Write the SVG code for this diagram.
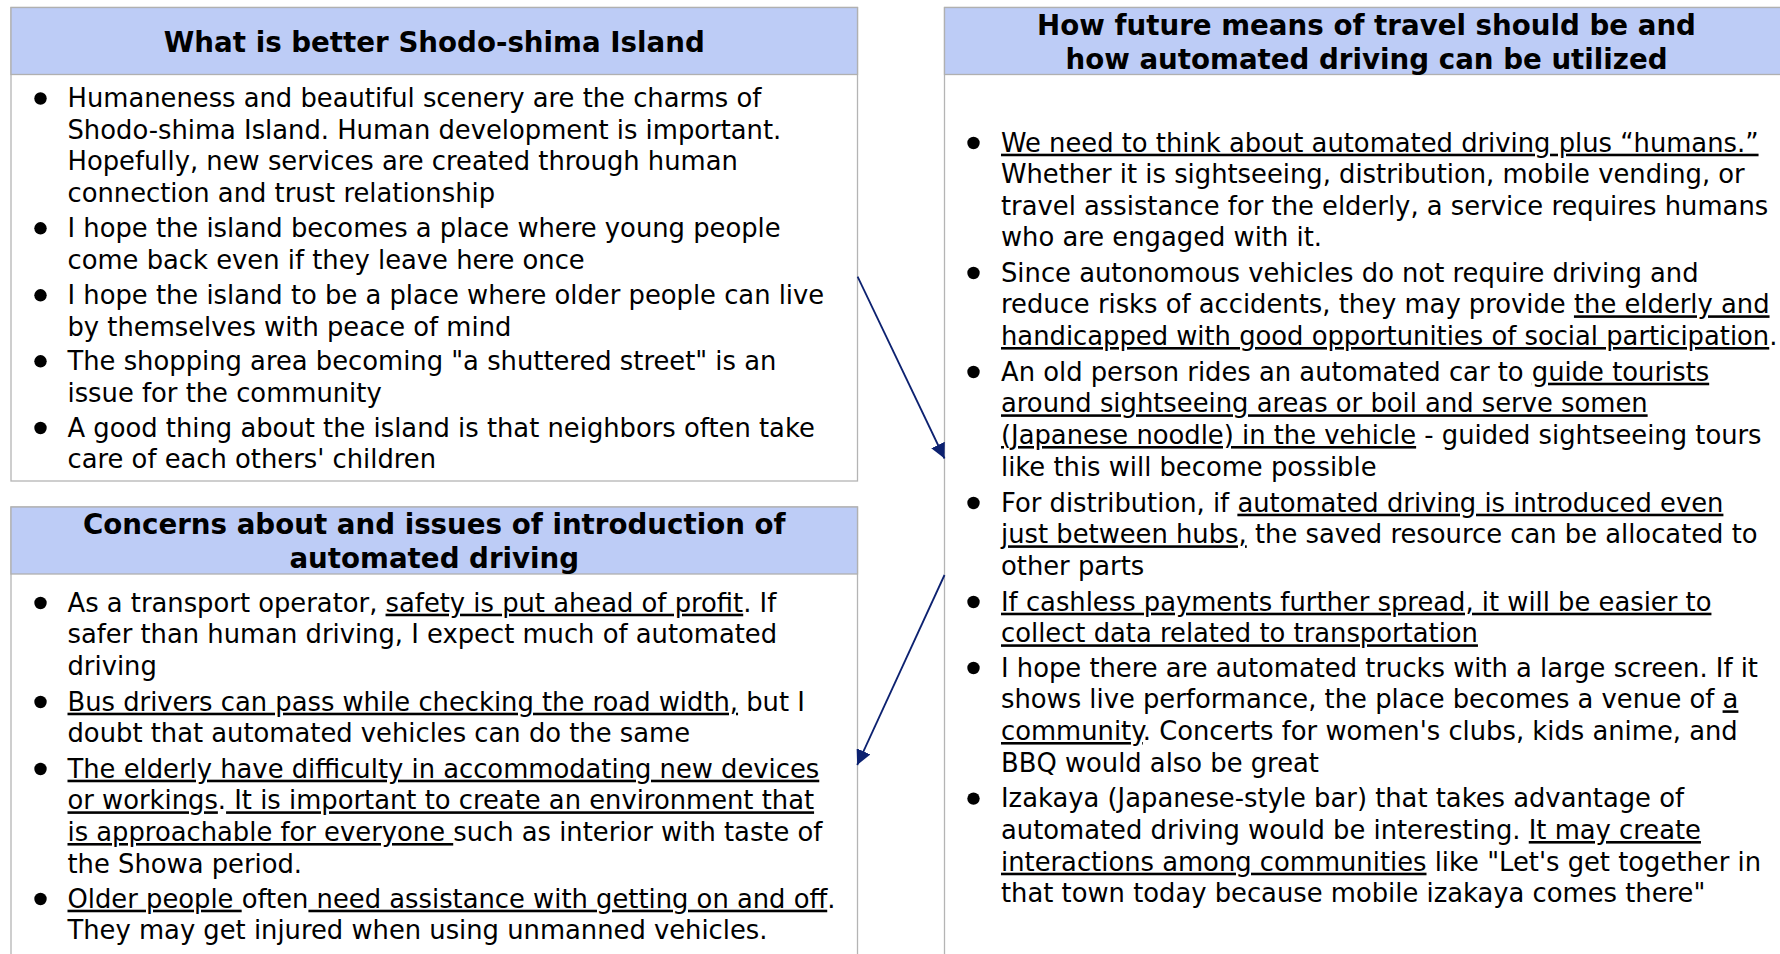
<svg xmlns="http://www.w3.org/2000/svg" width="1780" height="954" viewBox="0 0 1780 954">
<style>
.box{fill:#ffffff;stroke:#b4b4b4;stroke-width:1.3}
.hdr{fill:#bdccf6;stroke:#b0b0b0;stroke-width:1.3}
.title{font-family:"DejaVu Sans","Verdana",sans-serif;font-weight:bold;font-size:27.7px;fill:#000;text-anchor:middle}
.body{font-family:"DejaVu Sans","Verdana",sans-serif;font-size:25.8px;fill:#000;white-space:pre}
.u{text-decoration:underline}
.dot{fill:#000}
.conn{stroke:#0c2170;stroke-width:1.8;fill:none}
</style>
<defs>
<marker id="ah" markerUnits="userSpaceOnUse" markerWidth="16" markerHeight="15" refX="15" refY="7.5" orient="auto" viewBox="0 0 16 15">
<path d="M0,0 L15,7.5 L0,15 z" fill="#0c2170"/>
</marker>
</defs>
<rect x="0" y="0" width="1780" height="954" fill="#ffffff"/>

<g id="node-better-shodoshima">
<rect class="box" x="11" y="7.5" width="846.5" height="473.5"/>
<rect class="hdr" x="11" y="7.5" width="846.5" height="67"/>
<text class="title" x="434.3" y="51.5">What is better Shodo-shima Island</text>
<circle class="dot" cx="40.5" cy="98.5" r="6.2"/>
<circle class="dot" cx="40.5" cy="228.3" r="6.2"/>
<circle class="dot" cx="40.5" cy="295.3" r="6.2"/>
<circle class="dot" cx="40.5" cy="361.3" r="6.2"/>
<circle class="dot" cx="40.5" cy="428" r="6.2"/>
<text class="body" xml:space="preserve">
<tspan x="67.5" y="107.3">Humaneness and beautiful scenery are the charms of</tspan>
<tspan x="67.5" y="138.8">Shodo-shima Island. Human development is important.</tspan>
<tspan x="67.5" y="170.3">Hopefully, new services are created through human</tspan>
<tspan x="67.5" y="201.8">connection and trust relationship</tspan>
<tspan x="67.5" y="237">I hope the island becomes a place where young people</tspan>
<tspan x="67.5" y="268.6">come back even if they leave here once</tspan>
<tspan x="67.5" y="304">I hope the island to be a place where older people can live</tspan>
<tspan x="67.5" y="335.6">by themselves with peace of mind</tspan>
<tspan x="67.5" y="370">The shopping area becoming "a shuttered street" is an</tspan>
<tspan x="67.5" y="401.6">issue for the community</tspan>
<tspan x="67.5" y="436.7">A good thing about the island is that neighbors often take</tspan>
<tspan x="67.5" y="468.3">care of each others' children</tspan>
</text>
</g>

<g id="node-concerns">
<rect class="box" x="11" y="507" width="846.5" height="470"/>
<rect class="hdr" x="11" y="507" width="846.5" height="67"/>
<text class="title" x="434.3" y="534">Concerns about and issues of introduction of</text>
<text class="title" x="434.3" y="568">automated driving</text>
<circle class="dot" cx="40.5" cy="603" r="6.2"/>
<circle class="dot" cx="40.5" cy="702" r="6.2"/>
<circle class="dot" cx="40.5" cy="769" r="6.2"/>
<circle class="dot" cx="40.5" cy="899" r="6.2"/>
<text class="body" xml:space="preserve">
<tspan x="67.5" y="611.7">As a transport operator, <tspan class="u">safety is put ahead of profit</tspan>. If</tspan>
<tspan x="67.5" y="643.3">safer than human driving, I expect much of automated</tspan>
<tspan x="67.5" y="675">driving</tspan>
<tspan x="67.5" y="710.7"><tspan class="u">Bus drivers can pass while checking the road width,</tspan> but I</tspan>
<tspan x="67.5" y="742.3">doubt that automated vehicles can do the same</tspan>
<tspan x="67.5" y="777.7"><tspan class="u">The elderly have difficulty in accommodating new devices</tspan></tspan>
<tspan x="67.5" y="809.3"><tspan class="u">or workings</tspan>.<tspan class="u"> It is important to create an environment that</tspan></tspan>
<tspan x="67.5" y="841"><tspan class="u">is approachable for everyone </tspan>such as interior with taste of</tspan>
<tspan x="67.5" y="872.7">the Showa period.</tspan>
<tspan x="67.5" y="907.7"><tspan class="u">Older people </tspan>often<tspan class="u"> need assistance with getting on and off</tspan>.</tspan>
<tspan x="67.5" y="939.3">They may get injured when using unmanned vehicles.</tspan>
</text>
</g>

<g id="node-future-travel">
<rect class="box" x="944.5" y="7.5" width="850" height="970"/>
<rect class="hdr" x="944.5" y="7.5" width="850" height="67"/>
<text class="title" x="1366.5" y="35">How future means of travel should be and</text>
<text class="title" x="1366.5" y="69">how automated driving can be utilized</text>
<circle class="dot" cx="973.5" cy="143" r="6.2"/>
<circle class="dot" cx="973.5" cy="273" r="6.2"/>
<circle class="dot" cx="973.5" cy="372" r="6.2"/>
<circle class="dot" cx="973.5" cy="503" r="6.2"/>
<circle class="dot" cx="973.5" cy="602" r="6.2"/>
<circle class="dot" cx="973.5" cy="668" r="6.2"/>
<circle class="dot" cx="973.5" cy="798.6" r="6.2"/>
<text class="body" xml:space="preserve">
<tspan x="1001" y="151.7"><tspan class="u">We need to think about automated driving plus “humans.”</tspan></tspan>
<tspan x="1001" y="183.2">Whether it is sightseeing, distribution, mobile vending, or</tspan>
<tspan x="1001" y="214.6">travel assistance for the elderly, a service requires humans</tspan>
<tspan x="1001" y="246.1">who are engaged with it.</tspan>
<tspan x="1001" y="281.7">Since autonomous vehicles do not require driving and</tspan>
<tspan x="1001" y="313.3">reduce risks of accidents, they may provide <tspan class="u">the elderly and</tspan></tspan>
<tspan x="1001" y="345"><tspan class="u">handicapped with good opportunities of social participation</tspan>.</tspan>
<tspan x="1001" y="380.7">An old person rides an automated car to <tspan class="u">guide tourists</tspan></tspan>
<tspan x="1001" y="412.3"><tspan class="u">around sightseeing areas or boil and serve somen</tspan></tspan>
<tspan x="1001" y="444"><tspan class="u">(Japanese noodle) in the vehicle</tspan> - guided sightseeing tours</tspan>
<tspan x="1001" y="475.7">like this will become possible</tspan>
<tspan x="1001" y="511.7">For distribution, if <tspan class="u">automated driving is introduced even</tspan></tspan>
<tspan x="1001" y="543.3"><tspan class="u">just between hubs,</tspan> the saved resource can be allocated to</tspan>
<tspan x="1001" y="575">other parts</tspan>
<tspan x="1001" y="610.7"><tspan class="u">If cashless payments further spread, it will be easier to</tspan></tspan>
<tspan x="1001" y="642.3"><tspan class="u">collect data related to transportation</tspan></tspan>
<tspan x="1001" y="676.7">I hope there are automated trucks with a large screen. If it</tspan>
<tspan x="1001" y="708.3">shows live performance, the place becomes a venue of <tspan class="u">a</tspan></tspan>
<tspan x="1001" y="740"><tspan class="u">community</tspan>. Concerts for women's clubs, kids anime, and</tspan>
<tspan x="1001" y="771.7">BBQ would also be great</tspan>
<tspan x="1001" y="807.3">Izakaya (Japanese-style bar) that takes advantage of</tspan>
<tspan x="1001" y="839">automated driving would be interesting. <tspan class="u">It may create</tspan></tspan>
<tspan x="1001" y="870.7"><tspan class="u">interactions among communities</tspan> like "Let's get together in</tspan>
<tspan x="1001" y="902.3">that town today because mobile izakaya comes there"</tspan>
</text>
</g>

<g id="connectors">
<line class="conn" x1="857.6" y1="276.7" x2="944.5" y2="458.5" marker-end="url(#ah)"/>
<line class="conn" x1="944.5" y1="575" x2="857.2" y2="765" marker-end="url(#ah)"/>
</g>
</svg>
